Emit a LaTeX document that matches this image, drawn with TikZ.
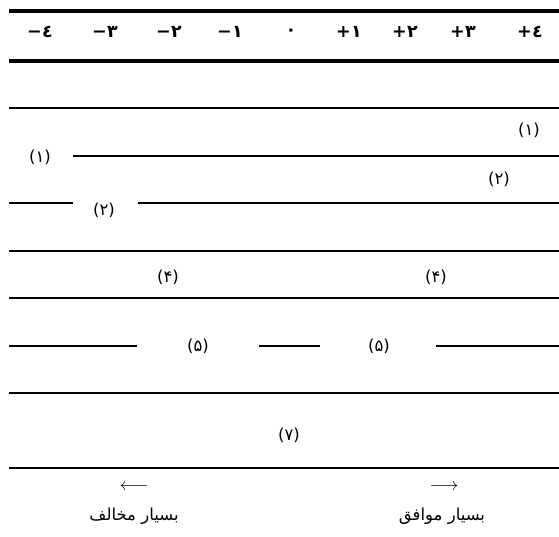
\documentclass[tikz,border=0pt]{standalone}
\usepackage{fontspec}
\TeXXeTstate=1
\newfontfamily\arabicfont[Script=Arabic]{DejaVu Sans}

% sign followed by a digit, kept in left-to-right order
\newcommand\signed[2]{#1\kern0.5pt\relax#2}

\begin{document}
\begin{tikzpicture}[x=1pt,y=-1pt,
  rule/.style={line width=1.8pt},
  heavyrule/.style={line width=4pt},
  head/.style={font=\arabicfont\bfseries\fontsize{17.5}{20}\selectfont, inner sep=0pt},
  lbl/.style={font=\arabicfont\fontsize{16.5}{19}\selectfont, inner sep=0pt},
  caption/.style={font=\arabicfont\fontsize{16.5}{19}\selectfont, inner sep=0pt},
  hint/.style={font=\Large, inner sep=0pt}]
\useasboundingbox (0,0) rectangle (559,537);

% scale header between two heavy rules
\draw[heavyrule] (9,11) -- (559,11);
\draw[heavyrule] (9,61) -- (559,61);
\foreach \x/\s/\d/\n in {40/−/٤/hm4, 105/−/٣/hm3, 169/−/٢/hm2, 230/−/١/hm1,
                         349/+/١/hp1, 405/+/٢/hp2, 463/+/٣/hp3, 530/+/٤/hp4}
  \node[head] (\n) at (\x,32) {\signed{\s}{\d}};
\node[head] (h0) at (291,32) {٠};

% answer rows
\draw[rule] (9,108) -- (559,108);
\draw[rule] (73,156) -- (559,156);
\draw[rule] (9,203) -- (73,203);
\draw[rule] (138,203) -- (559,203);
\draw[rule] (9,251) -- (559,251);
\draw[rule] (9,298) -- (559,298);
\draw[rule] (9,346) -- (137,346);
\draw[rule] (259,346) -- (320,346);
\draw[rule] (436,346) -- (559,346);
\draw[rule] (9,393) -- (559,393);
\draw[rule] (9,468) -- (559,468);

\node[lbl] (r1a) at (40,157) {(١)};
\node[lbl] (r1b) at (529,130) {(١)};
\node[lbl] (r2a) at (104,210) {(٢)};
\node[lbl] (r2b) at (499,179) {(٢)};
\node[lbl] (r4a) at (168,277) {(۴)};
\node[lbl] (r4b) at (436,277) {(۴)};
\node[lbl] (r5a) at (198,346) {(۵)};
\node[lbl] (r5b) at (379,346) {(۵)};
\node[lbl] (r7)  at (289,435) {(٧)};

% direction hints
\node[hint] (arrL) at (134,487) {\scalebox{1.25}{$\longleftarrow$}};
\node[hint] (arrR) at (444,487) {\scalebox{1.25}{$\longrightarrow$}};
\node[caption] (disagree) at (134,516) {\beginR بسیار مخالف\endR};
\node[caption] (agree) at (442,516) {\beginR بسیار موافق\endR};
\end{tikzpicture}
\end{document}
